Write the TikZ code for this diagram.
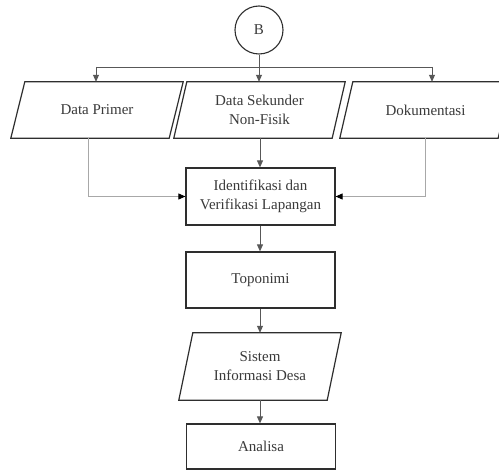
\documentclass[tikz,border=0pt]{standalone}
\usepackage{fontspec}
\setmainfont{Liberation Serif}
\usetikzlibrary{arrows.meta,calc}
\definecolor{ink}{HTML}{3A3A3A}
\definecolor{edge}{HTML}{2E2E2E}
\definecolor{faint}{HTML}{A8A8A8}
% slanted input/output frame around a (borderless) rectangular node
\newcommand\ioframe[2]{%
  \draw[frameline] ($(#1.north west)+(#2/2,0)$) -- ($(#1.north east)+(#2/2,0)$)
    -- ($(#1.south east)-(#2/2,0)$) -- ($(#1.south west)-(#2/2,0)$) -- cycle;}
\begin{document}
\begin{tikzpicture}[x=1pt,y=-1pt,
  every node/.style={text=ink,font=\fontsize{15}{19}\selectfont,align=center,inner sep=0pt},
  frameline/.style={draw=edge,line width=1.2pt,line join=miter},
  procbox/.style={frameline,rectangle,minimum width=149pt},
  iobox/.style={rectangle,minimum width=158pt,minimum height=56pt},
  connector/.style={draw=edge!80,line width=0.9pt,-{Triangle[width=6pt,length=7pt]}},
  plainline/.style={draw=edge!80,line width=0.9pt},
  sideline/.style={draw=faint,line width=0.9pt,-{Triangle[width=6pt,length=7pt,fill=black,color=black]}}]
\clip (0,0) rectangle (499,470);
\fill[white] (0,0) rectangle (499,470);

% connector circle
\node[draw=edge,line width=1.1pt,circle,minimum size=48pt] (B) at (259,30) {B};

% input data
\node[iobox] (dp) at (97,110) {Data Primer};
\node[iobox] (ds) at (259.5,110) {Data Sekunder\\Non-Fisik};
\node[iobox] (dk) at (425.5,110) {Dokumentasi};
\ioframe{dp}{14}
\ioframe{ds}{13}
\ioframe{dk}{13}

% process chain
\node[procbox,minimum height=57pt] (idv) at (260.5,196.5) {Identifikasi dan\\Verifikasi Lapangan};
\node[procbox,minimum height=56pt] (top) at (260.5,280) {Toponimi};
\node[iobox,minimum width=148pt,minimum height=67pt] (sid) at (260,366.5) {Sistem\\Informasi Desa};
\ioframe{sid}{14}
\node[procbox,minimum height=45pt] (ana) at (261,446.5) {Analisa};

% branch from B to the three inputs
\coordinate (bus) at (259,67);
\coordinate (busL) at (96,67);
\coordinate (busR) at (432,67);
\draw[plainline] (B.south) -- (bus);
\draw[plainline] (busL) -- (busR);
\draw[connector] (busL) -- (busL |- dp.north);
\draw[connector] (bus) -- (bus |- ds.north);
\draw[connector] (busR) -- (busR |- dk.north);

% inputs into identification
\coordinate (dpOut) at (88,138);
\coordinate (dkOut) at (425,138);
\draw[sideline] (dpOut) |- (idv.west);
\draw[sideline] (dkOut) |- (idv.east);
\draw[connector] (260,138) -- (idv.north -| 260,0);

% process chain
\draw[connector] (idv.south -| 260,0) -- (top.north -| 260,0);
\draw[connector] (top.south -| 260,0) -- (sid.north -| 260,0);
\draw[connector] (sid.south -| 260,0) -- (ana.north -| 260,0);
\end{tikzpicture}
\end{document}
